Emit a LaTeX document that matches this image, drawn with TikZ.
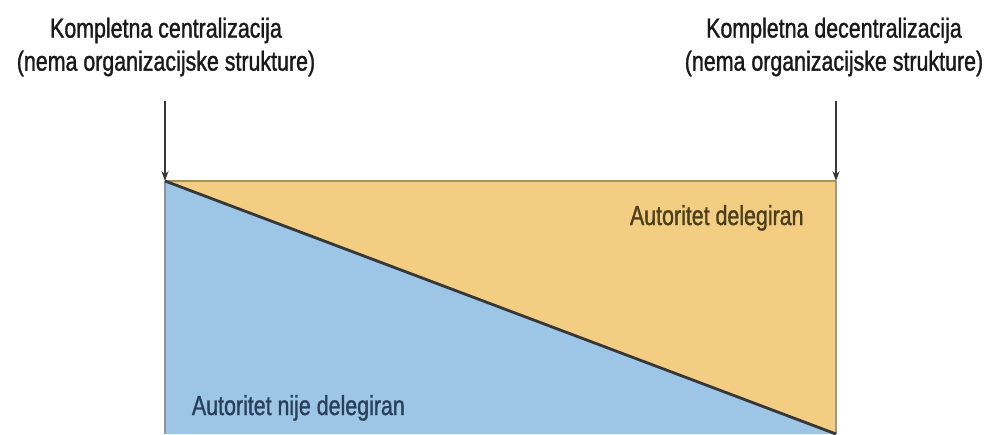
\documentclass[tikz,border=0pt]{standalone}
\usepackage{fontspec}
\setmainfont{Liberation Sans}[FakeStretch=0.78,FakeBold=1.2]
\usepackage{tikz}
\usetikzlibrary{arrows.meta}
\definecolor{delegated}{RGB}{243,206,130}
\definecolor{notdelegated}{RGB}{157,198,230}
\definecolor{inkgray}{RGB}{55,55,55}

\begin{document}
\begin{tikzpicture}[x=0.025cm, y=-0.025cm,
    toplabel/.style={align=center, font=\fontsize{19.5}{23.5}\selectfont, text=black!90},
    arealabel/.style={anchor=base west, font=\fontsize{19.5}{23.5}\selectfont},
    arr/.style={-{Stealth[length=7pt,width=5pt]}, inkgray, line width=1.1pt}]
    \useasboundingbox (0,0) rectangle (997,434);
    % Corners
    \coordinate (tl) at (165,181);
    \coordinate (tr) at (836,181);
    \coordinate (bl) at (165,434);
    \coordinate (br) at (836,434);
    % Areas
    \fill[notdelegated] (tl) -- (br) -- (bl) -- cycle;
    \fill[delegated] (tl) -- (tr) -- (br) -- cycle;
    \draw[gray!70!notdelegated, line width=0.8pt] (tl) -- (bl);
    \draw[gray!70!delegated, line width=0.8pt] (tr) -- (br);
    \draw[delegated!70!black, line width=0.8pt] (tl) -- (tr);
    \draw[inkgray, line width=2pt] (tl) -- (br);
    % Labels
    \node[toplabel] (cl) at (166,47) {Kompletna centralizacija\\(nema organizacijske strukture)};
    \node[toplabel] (cr) at (834,47) {Kompletna decentralizacija\\(nema organizacijske strukture)};
    \node[arealabel, text={rgb,255:red,75;green,62;blue,28}] (del) at (625,225) {Autoritet delegiran};
    \node[arealabel, text={rgb,255:red,42;green,64;blue,90}] (ndel) at (187,415) {Autoritet nije delegiran};
    % Arrows
    \draw[arr, shorten <=14pt] (cl.south -| tl) -- (tl);
    \draw[arr, shorten <=14pt] (cr.south -| tr) -- (tr);
\end{tikzpicture}
\end{document}
